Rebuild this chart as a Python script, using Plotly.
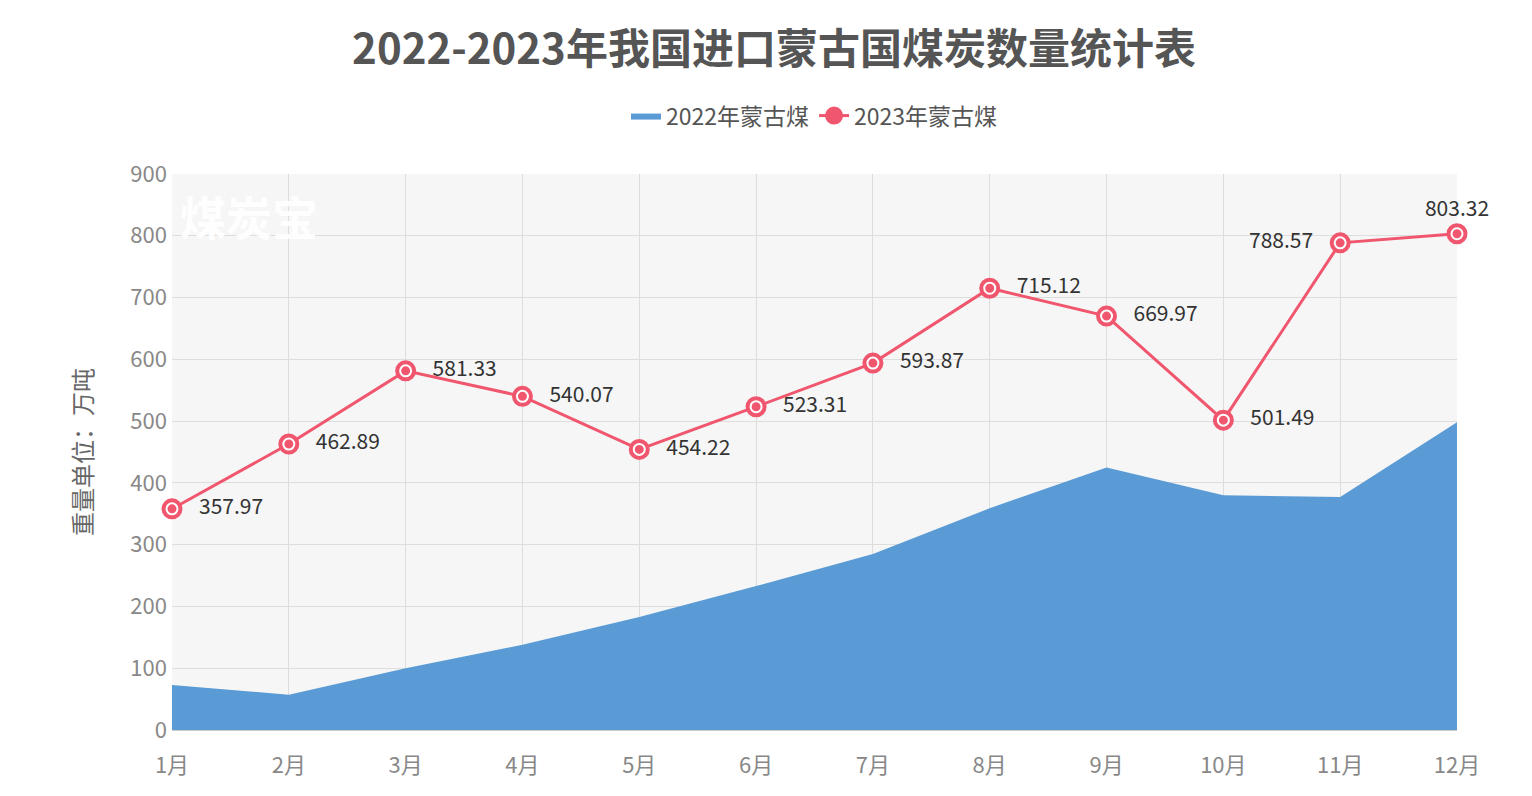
import plotly.graph_objects as go

months = ["1月","2月","3月","4月","5月","6月","7月","8月","9月","10月","11月","12月"]
v2022 = [73, 57, 100, 138, 183, 233, 285, 359, 425, 380, 377, 498]
v2023 = [357.97, 462.89, 581.33, 540.07, 454.22, 523.31, 593.87, 715.12, 669.97, 501.49, 788.57, 803.32]
labels = [f"{v:.2f}" for v in v2023]
pos = ["middle right"]*10 + ["middle left", "top center"]

fig = go.Figure()
fig.add_trace(go.Scatter(x=months, y=v2022, name="2022年蒙古煤", mode="lines",
                         line=dict(color="#5b9bd5", width=0), fill="tozeroy",
                         fillcolor="#5b9bd5"))
fig.add_trace(go.Scatter(x=months, y=v2023, name="2023年蒙古煤", mode="lines+markers+text",
                         line=dict(color="#f0566e", width=3), cliponaxis=False,
                         marker=dict(symbol="circle-dot", size=19, color="#f0566e",
                                     line=dict(color="#f0566e", width=2)),
                         text=["   " + t + "   " for t in labels], textposition=pos,
                         textfont=dict(size=21, color="#333")))
fig.add_trace(go.Scatter(x=months, y=v2023, mode="markers", showlegend=False, hoverinfo="skip",
                         cliponaxis=False,
                         marker=dict(symbol="circle-open", size=11, color="white", line=dict(width=2))))
fig.add_annotation(text="<b>煤炭宝</b>", xref="paper", yref="paper", x=0.005, y=0.99,
                   xanchor="left", yanchor="top", showarrow=False,
                   font=dict(size=46, color="rgba(255,255,255,0.95)"))
fig.update_layout(
    width=1532, height=796,
    font=dict(family="Noto Sans CJK SC", color="#666"),
    title=dict(text="<b>2022-2023年我国进口蒙古国煤炭数量统计表</b>", x=0.5, y=0.948,
               xanchor="center", yanchor="middle", font=dict(size=42, color="#555")),
    legend=dict(orientation="h", x=0.5, xanchor="center", y=1.105, yanchor="middle",
                font=dict(size=23, color="#555")),
    plot_bgcolor="#f6f6f6", paper_bgcolor="white",
    margin=dict(l=164, r=83, t=166, b=74),
    xaxis=dict(range=[0, 11], showgrid=True, gridcolor="#dddddd", tickfont=dict(size=22, color="#888"),
               showline=True, linecolor="#ccc", ticks="", ticklabelstandoff=16),
    yaxis=dict(range=[0, 900], dtick=100, gridcolor="#dddddd", tickfont=dict(size=22, color="#888"),
               title=dict(text="重量单位：万吨", font=dict(size=24, color="#666"), standoff=30),
               zeroline=False, ticklabelstandoff=4),
)
fig.write_html("out.html")
